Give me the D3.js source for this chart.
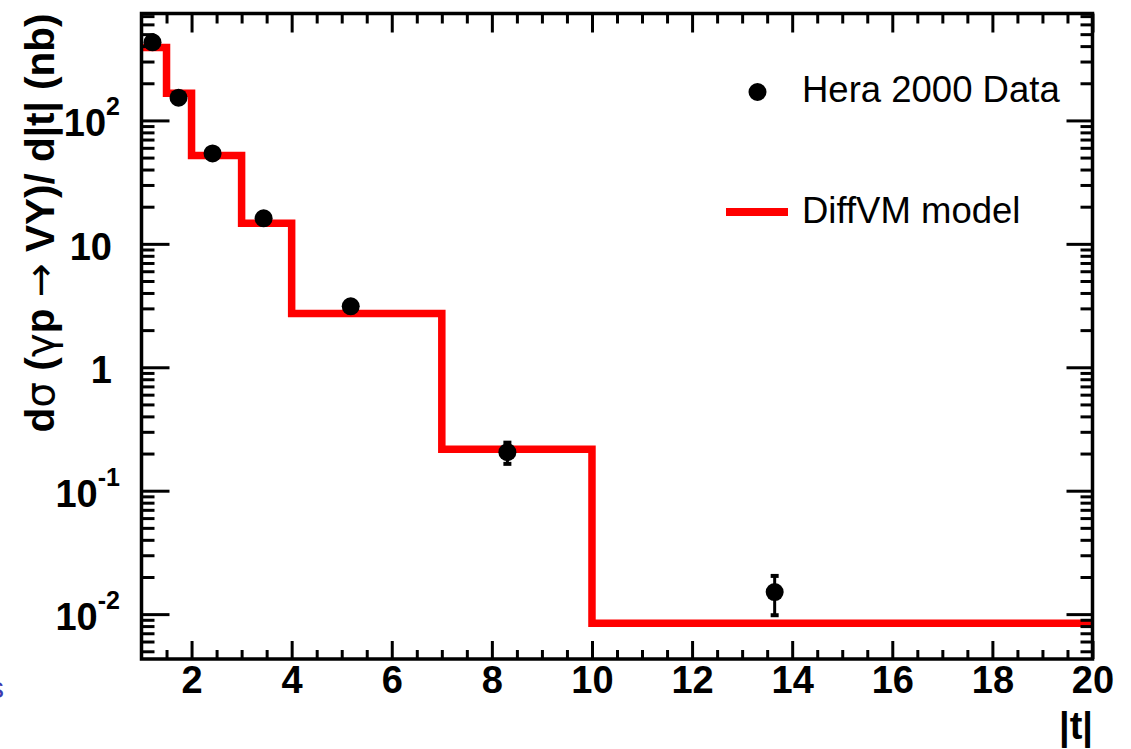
<!DOCTYPE html>
<html>
<head>
<meta charset="utf-8">
<script src="https://cdn.jsdelivr.net/npm/d3@7"></script>
<style>
  body { margin: 0; background: #fff; }
  svg { display: block; font-family: "Liberation Sans", Arial, Helvetica, sans-serif; }
</style>
</head>
<body>
<svg id="canvas"></svg>
<script>
// model histogram (DiffVM), bin edges in |t|
const binEdges = [1, 1.5, 2, 3, 4, 7, 10, 20];
const modelValues = [390, 166, 52, 14.7, 2.73, 0.217, 0.00845];

// Hera 2000 data points
const dataT = [1.22, 1.74, 2.42, 3.44, 5.18, 8.31, 13.65];
const dataValues = [429, 153, 54, 16.1, 3.12, 0.205, 0.0151];
const dataErrors = [20, 8, 3, 1, 0.2, 0.04, 0.0053];

// tick labels
const xTicks = [2, 4, 6, 8, 10, 12, 14, 16, 18, 20];
const yTicks = [0.01, 0.1, 1, 10, 100];
const yTickBase = ["10", "10", "1", "10", "10"];
const yTickExp = ["-2", "-1", "", "", "2"];

// legend labels
const legendLabels = ["Hera 2000 Data", "DiffVM model"];

// canvas variables
const width = 1131;
const height = 749;
const plotLeft = 141.5;
const plotRight = 1092.5;
const plotTop = 13.5;
const plotBottom = 659;

const svg = d3.select("#canvas").attr("width", width).attr("height", height);

// scales
const xScale = d3.scaleLinear().domain([1, 20]).range([plotLeft, plotRight]);
const yScale = d3.scaleLog().domain([0.00433, 735]).range([plotBottom, plotTop]);

// minor tick values
const xMinor = d3.range(1.5, 20, 0.5).filter((d) => d % 2 !== 0);
const yMinor = [];
for (let e = -3; e <= 2; e++) {
  for (let m = 2; m <= 9; m++) {
    const v = m * Math.pow(10, e);
    if (v > 0.00433 && v < 735) yMinor.push(v);
  }
}

// histogram step line
const histPoints = modelValues.map((v, i) => [binEdges[i], v]);
histPoints.push([binEdges[binEdges.length - 1], modelValues[modelValues.length - 1]]);

const line = d3
  .line()
  .x((d) => xScale(d[0]))
  .y((d) => yScale(d[1]))
  .curve(d3.curveStepAfter);

svg
  .append("path")
  .datum(histPoints)
  .attr("d", line)
  .attr("fill", "none")
  .attr("stroke", "#ff0000")
  .attr("stroke-width", 7.5)
  .attr("stroke-linejoin", "miter");

// error bars
const errs = svg.append("g").attr("stroke", "#000");
dataT.forEach((t, i) => {
  const x = xScale(t);
  const y1 = yScale(dataValues[i] + dataErrors[i]);
  const y2 = yScale(dataValues[i] - dataErrors[i]);
  errs.append("line").attr("x1", x).attr("x2", x).attr("y1", y1).attr("y2", y2).attr("stroke-width", 3);
  [y1, y2].forEach((y) => {
    errs.append("line").attr("x1", x - 4).attr("x2", x + 4).attr("y1", y).attr("y2", y).attr("stroke-width", 4);
  });
});

// data points
svg
  .selectAll("circle.dot")
  .data(dataT)
  .enter()
  .append("circle")
  .attr("class", "dot")
  .attr("cx", (d) => xScale(d))
  .attr("cy", (d, i) => yScale(dataValues[i]))
  .attr("r", 9)
  .attr("fill", "#000");

// axes helper
function styleAxis(g) {
  g.select(".domain").remove();
  g.selectAll("line").attr("stroke", "#000").attr("stroke-width", 3);
}

// bottom axis
svg
  .append("g")
  .attr("transform", `translate(0, ${plotBottom})`)
  .call(d3.axisBottom(xScale).tickValues(xTicks).tickSize(-18).tickPadding(7).tickFormat(d3.format("d")))
  .call(styleAxis)
  .call((g) =>
    g.selectAll("text").attr("fill", "#000").style("font-size", "38px").style("font-weight", "bold")
  );

svg
  .append("g")
  .attr("transform", `translate(0, ${plotBottom})`)
  .call(d3.axisBottom(xScale).tickValues(xMinor).tickSize(-9).tickFormat(""))
  .call(styleAxis);

// top axis
svg
  .append("g")
  .attr("transform", `translate(0, ${plotTop})`)
  .call(d3.axisTop(xScale).tickValues(xTicks).tickSize(-19).tickFormat(""))
  .call(styleAxis);

svg
  .append("g")
  .attr("transform", `translate(0, ${plotTop})`)
  .call(d3.axisTop(xScale).tickValues(xMinor).tickSize(-10).tickFormat(""))
  .call(styleAxis);

// left axis
svg
  .append("g")
  .attr("transform", `translate(${plotLeft}, 0)`)
  .call(d3.axisLeft(yScale).tickValues(yTicks).tickSize(-28).tickFormat(""))
  .call(styleAxis);

svg
  .append("g")
  .attr("transform", `translate(${plotLeft}, 0)`)
  .call(d3.axisLeft(yScale).tickValues(yMinor).tickSize(-13).tickFormat(""))
  .call(styleAxis);

// right axis
svg
  .append("g")
  .attr("transform", `translate(${plotRight}, 0)`)
  .call(d3.axisRight(yScale).tickValues(yTicks).tickSize(-26).tickFormat(""))
  .call(styleAxis);

svg
  .append("g")
  .attr("transform", `translate(${plotRight}, 0)`)
  .call(d3.axisRight(yScale).tickValues(yMinor).tickSize(-12).tickFormat(""))
  .call(styleAxis);

// frame
svg
  .append("rect")
  .attr("x", plotLeft)
  .attr("y", plotTop)
  .attr("width", plotRight - plotLeft)
  .attr("height", plotBottom - plotTop)
  .attr("fill", "none")
  .attr("stroke", "#000")
  .attr("stroke-width", 3.5);

// y tick labels
yTicks.forEach((v, i) => {
  const t = svg
    .append("text")
    .attr("x", yTickExp[i] ? 120 : 112)
    .attr("y", yScale(v) + 16)
    .attr("text-anchor", "end")
    .style("font-size", "38px")
    .style("font-weight", "bold")
    .text(yTickBase[i]);
  if (yTickExp[i]) {
    t.append("tspan").attr("dy", -21).style("font-size", "25px").text(yTickExp[i]);
  }
});

// y title
const yTitle = svg
  .append("text")
  .attr("transform", `translate(54, ${plotTop}) rotate(-90)`)
  .attr("text-anchor", "end")
  .style("font-size", "40.5px")
  .style("font-weight", "bold");
const symbolFont = "'DejaVu Sans', sans-serif";
yTitle.append("tspan").text("d");
yTitle.append("tspan").style("font-weight", "normal").style("font-family", symbolFont).text("σ");
yTitle.append("tspan").text(" (");
yTitle.append("tspan").style("font-weight", "normal").style("font-family", symbolFont).text("γ");
yTitle.append("tspan").text("p ");
yTitle.append("tspan").style("font-weight", "normal").style("font-family", symbolFont).text("→");
yTitle.append("tspan").text(" VY)/ d|t| (nb)");

// x title
svg
  .append("text")
  .attr("x", 1093)
  .attr("y", 739)
  .attr("text-anchor", "end")
  .style("font-size", "38px")
  .style("font-weight", "bold")
  .text("|t|");

// legend
svg.append("circle").attr("cx", 757.5).attr("cy", 92).attr("r", 9).attr("fill", "#000");
svg
  .append("line")
  .attr("x1", 726)
  .attr("x2", 788)
  .attr("y1", 212)
  .attr("y2", 212)
  .attr("stroke", "#ff0000")
  .attr("stroke-width", 8);

svg
  .selectAll("text.legend")
  .data(legendLabels)
  .enter()
  .append("text")
  .attr("class", "legend")
  .attr("x", 802)
  .attr("y", (d, i) => (i === 0 ? 102 : 223))
  .style("font-size", "36.5px")
  .text((d) => d);

// clipped slide glyph at the left edge
svg
  .append("text")
  .attr("x", -11)
  .attr("y", 698)
  .style("font-size", "30px")
  .attr("fill", "#3b3bb0")
  .text("s");
</script>
</body>
</html>
